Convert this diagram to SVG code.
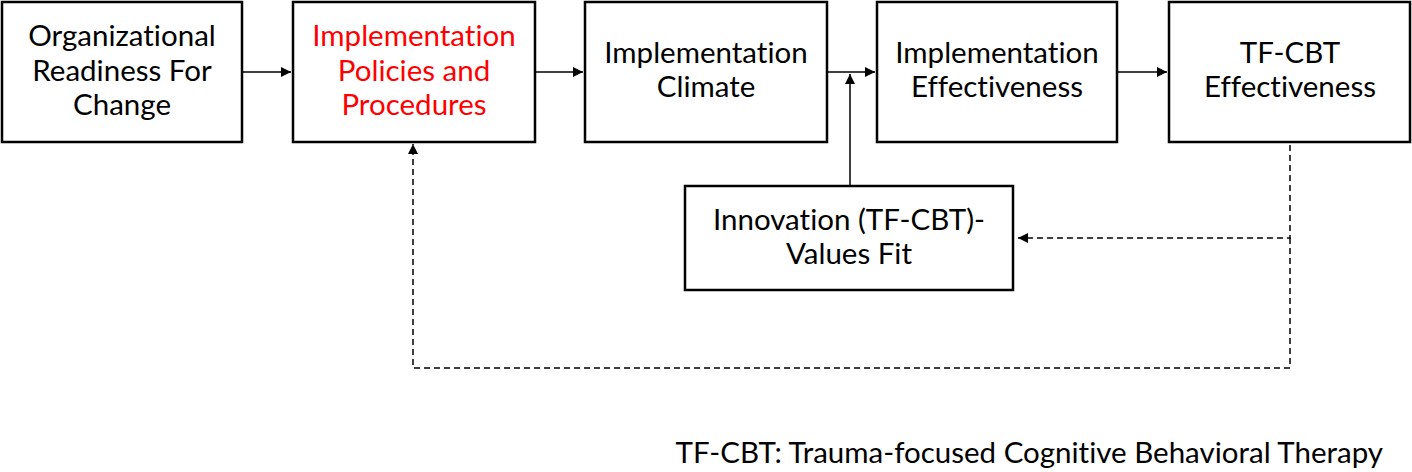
<svg xmlns="http://www.w3.org/2000/svg" width="1412" height="472" viewBox="0 0 1412 472">
<style>
.box{fill:#fff;stroke:#000;stroke-width:2.5}
.t{font-family:Lato,"Liberation Sans",sans-serif;font-size:29.5px;fill:#000;text-anchor:middle;font-variant-ligatures:none}
.red{fill:#ff0000}
.c{fill:none;stroke:#000;stroke-width:1.5}
.d{fill:none;stroke:#000;stroke-width:1.5;stroke-dasharray:6 4}
</style>
<defs>
<marker id="ah" viewBox="0 0 10 10" refX="10" refY="5" markerWidth="10" markerHeight="10" markerUnits="userSpaceOnUse" orient="auto">
<path d="M0,0 L10,5 L0,10 Z" fill="#000"/>
</marker>
</defs>
<g id="connectors">
<line class="c" x1="243" y1="72" x2="291" y2="72" marker-end="url(#ah)"/>
<line class="c" x1="536" y1="72" x2="583" y2="72" marker-end="url(#ah)"/>
<line class="c" x1="828" y1="72" x2="875" y2="72" marker-end="url(#ah)"/>
<line class="c" x1="850" y1="185" x2="850" y2="74" marker-end="url(#ah)"/>
<line class="c" x1="1118" y1="72" x2="1167" y2="72" marker-end="url(#ah)"/>
<polyline class="d" points="1290,145 1290,238 1018,238" marker-end="url(#ah)"/>
<polyline class="d" points="1290,238 1290,368 413,368 413,144" marker-end="url(#ah)"/>
</g>
<g id="n1">
<rect class="box" x="2" y="2" width="240" height="140"/>
<text class="t" x="122" y="46">Organizational</text>
<text class="t" x="122" y="81">Readiness For</text>
<text class="t" x="122" y="115">Change</text>
</g>
<g id="n2">
<rect class="box" x="293" y="2" width="242" height="140"/>
<text class="t red" x="414" y="46">Implementation</text>
<text class="t red" x="414" y="81">Policies and</text>
<text class="t red" x="414" y="115">Procedures</text>
</g>
<g id="n3">
<rect class="box" x="585" y="2" width="242" height="140"/>
<text class="t" x="706" y="63">Implementation</text>
<text class="t" x="706" y="97">Climate</text>
</g>
<g id="n4">
<rect class="box" x="877" y="2" width="240" height="140"/>
<text class="t" x="997" y="63">Implementation</text>
<text class="t" x="997" y="97">Effectiveness</text>
</g>
<g id="n5">
<rect class="box" x="1169" y="2" width="241" height="140"/>
<text class="t" x="1290" y="63">TF-CBT</text>
<text class="t" x="1290" y="97">Effectiveness</text>
</g>
<g id="n6">
<rect class="box" x="685" y="186" width="328" height="104"/>
<text class="t" x="849" y="230">Innovation (TF-CBT)-</text>
<text class="t" x="849" y="264">Values Fit</text>
</g>
<g id="note">
<text class="t" x="1383" y="463" style="text-anchor:end">TF-CBT: Trauma-focused Cognitive Behavioral Therapy</text>
</g>
</svg>
